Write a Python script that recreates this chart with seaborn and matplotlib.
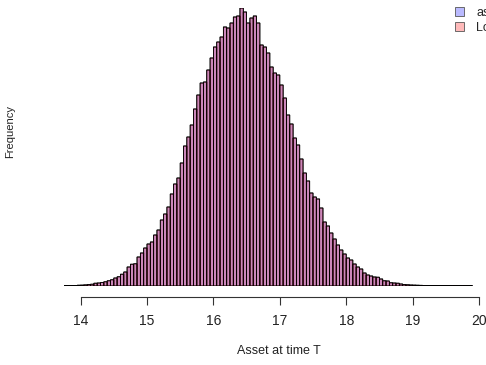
import numpy as np
import pandas as pd
import matplotlib
matplotlib.use("Agg")
import matplotlib.pyplot as plt
import seaborn as sns

# ---- data ----
bin_start = 13.75
bin_width = 0.05
# frequency per bin, bins from 13.75 to 19.90
asset_counts = [
    3, 4, 5, 6, 8,
    9, 11, 14, 18, 28, 30, 35, 42, 52, 62,
    80, 92, 118, 140, 190, 218, 222, 290, 330, 380,
    420, 440, 510, 560, 660, 720, 790, 920, 1020, 1080,
    1230, 1400, 1490, 1610, 1770, 1910, 2030, 2040, 2160, 2280,
    2390, 2440, 2490, 2590, 2580, 2630, 2690, 2700, 2780, 2740,
    2630, 2680, 2700, 2630, 2410, 2390, 2330, 2190, 2130, 2110,
    2010, 1880, 1710, 1620, 1480, 1410, 1270, 1130, 1050, 930,
    890, 870, 780, 640, 600, 530, 470, 410, 360, 320,
    280, 260, 220, 190, 170, 130, 110, 100, 90, 88,
    70, 52, 50, 32, 30, 28, 20, 14,
    12, 10, 9, 8, 7, 6, 6, 5, 5, 4, 4, 4, 3, 3, 3, 3, 3, 3, 3, 3,
]
lognormal_counts = list(asset_counts)
series_labels = ["asset", "Lognormal"]
x_ticks = [14, 15, 16, 17, 18, 19, 20]
x_label = "Asset at time T"
y_label = "Frequency"

n = len(asset_counts)
edges = bin_start + bin_width * np.arange(n + 1)
centers = (edges[:-1] + edges[1:]) / 2
df = pd.DataFrame({"x": centers, "a": asset_counts, "b": lognormal_counts})

# ---- style ----
sns.set_theme(style="white")
plt.rcParams["font.family"] = ["Liberation Sans", "DejaVu Sans"]

W, H = 486, 365
fig = plt.figure(figsize=(W / 100, H / 100), dpi=100)
left_px, right_px = 64, 479
top_px, base_px = 8, 286
ax = fig.add_axes([left_px / W, (H - base_px) / H,
                   (right_px - left_px) / W, (base_px - top_px) / H])

brange = (float(edges[0]), float(edges[-1]))
sns.histplot(data=df, x="x", weights="a", binwidth=bin_width, binrange=brange,
             ax=ax, color=(0, 0, 1), alpha=0.27, edgecolor="black",
             linewidth=0.55, label=series_labels[0])
sns.histplot(data=df, x="x", weights="b", binwidth=bin_width, binrange=brange,
             ax=ax, color=(1, 0, 0), alpha=0.27, edgecolor="black",
             linewidth=0.55, label=series_labels[1])
for p in ax.patches:
    p.set_snap(False)

ax.set_xlim(13.75, 20.0)
ax.set_ylim(0, 2780)
for s in ["top", "right", "left"]:
    ax.spines[s].set_visible(False)
ax.spines["bottom"].set_position(("outward", 8))
ax.spines["bottom"].set_bounds(14, 20)
ax.spines["bottom"].set_color("#333333")
ax.spines["bottom"].set_linewidth(0.8)
ax.set_yticks([])
ax.set_xticks(x_ticks)
ax.set_xticklabels([str(t) for t in x_ticks])
ax.tick_params(axis="x", direction="out", length=5.8, width=0.8,
               color="#333333", pad=6.5, labelsize=10, labelcolor="#222222",
               bottom=True)

ax.set_xlabel(x_label, fontsize=9, color="#222222")
ax.xaxis.set_label_coords((279 - left_px) / (right_px - left_px),
                          (base_px - 351) / (base_px - top_px))
ax.xaxis.label.set_va("center")
ax.set_ylabel(y_label, fontsize=8, color="#222222")
ax.yaxis.set_label_coords((10 - left_px) / (right_px - left_px),
                          (base_px - 131) / (base_px - top_px))
ax.yaxis.label.set_va("center")

leg = ax.legend(loc="upper left", bbox_to_anchor=(455 / W, 1 - 7 / H),
                bbox_transform=fig.transFigure, frameon=False, fontsize=9,
                handlelength=0.75, handleheight=0.75, handletextpad=0.95,
                borderpad=0, borderaxespad=0, labelspacing=0.25)
for h in leg.legend_handles:
    h.set_edgecolor("#555555")
    h.set_linewidth(0.6)

fig.savefig("out.png", dpi=100)
